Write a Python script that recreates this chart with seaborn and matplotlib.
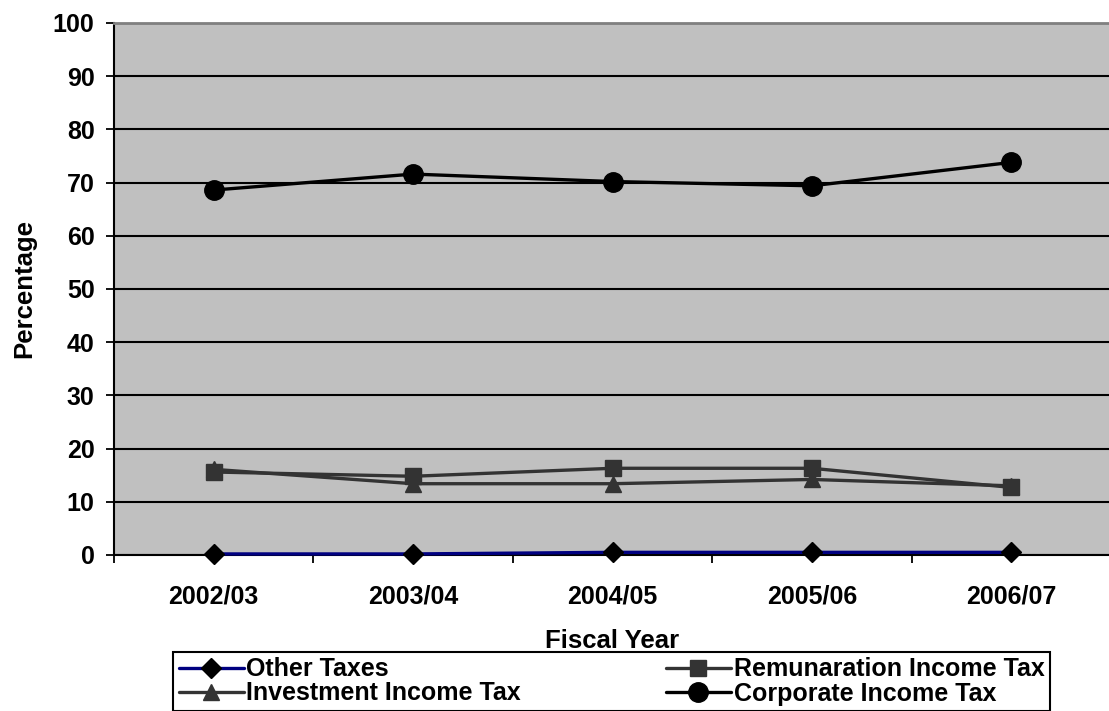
import matplotlib
matplotlib.use("Agg")
import matplotlib.pyplot as plt
import seaborn as sns
import pandas as pd
from matplotlib.ticker import FixedLocator

# Share of tax revenue by type, per fiscal year (percent)
years = ["2002/03", "2003/04", "2004/05", "2005/06", "2006/07"]
other_taxes = [0.2, 0.2, 0.5, 0.5, 0.5]
remuneration_tax = [15.6, 14.8, 16.3, 16.3, 12.7]
investment_tax = [16.1, 13.4, 13.4, 14.2, 13.0]
corporate_tax = [68.6, 71.6, 70.2, 69.4, 73.8]
y_ticks = [0, 10, 20, 30, 40, 50, 60, 70, 80, 90, 100]

series = [
    ("Other Taxes", other_taxes, dict(color="#000080", marker="D", markersize=10.5,
                                      markerfacecolor="black", markeredgecolor="black")),
    ("Remunaration Income Tax", remuneration_tax, dict(color="#333333", marker="s", markersize=11,
                                                      markerfacecolor="#333333", markeredgecolor="#333333")),
    ("Investment Income Tax", investment_tax, dict(color="#333333", marker="^", markersize=12,
                                                   markerfacecolor="#333333", markeredgecolor="#333333")),
    ("Corporate Income Tax", corporate_tax, dict(color="black", marker="o", markersize=14,
                                                 markerfacecolor="black", markeredgecolor="black")),
]

sns.set_theme(style="white")
plt.rcParams["font.family"] = ["Liberation Sans", "DejaVu Sans"]
plt.rcParams["font.weight"] = "bold"
plt.rcParams["text.color"] = "black"
plt.rcParams["axes.labelcolor"] = "black"
plt.rcParams["xtick.color"] = "black"
plt.rcParams["ytick.color"] = "black"

fig = plt.figure(figsize=(11.09, 7.11), dpi=100)
W, H = 1109, 711
ax = fig.add_axes([114 / W, 1 - 555 / H, (1111 - 114) / W, (555 - 23) / H])
ax.set_facecolor("#C0C0C0")

handles = {}
for name, values, style in series:
    df = pd.DataFrame({"year": years, "value": values})
    sns.lineplot(data=df, x="year", y="value", ax=ax, label=name, linewidth=2.4,
                 markeredgewidth=1, zorder=4, clip_on=False, **style)
for h, lab in zip(*ax.get_legend_handles_labels()):
    handles[lab] = h
ax.get_legend().remove()

ax.set_xlim(-0.5, len(years) - 0.5)
ax.set_ylim(0, 100)
ax.yaxis.set_major_locator(FixedLocator(y_ticks))
ax.grid(axis="y", color="black", linewidth=1.5)
ax.grid(axis="x", visible=False)
ax.set_axisbelow(True)

ax.spines["right"].set_visible(False)
ax.spines["top"].set_color("#808080")
ax.spines["top"].set_linewidth(2)
for side in ["left", "bottom"]:
    ax.spines[side].set_color("black")
    ax.spines[side].set_linewidth(1.5)

# category ticks sit between the categories
ax.xaxis.set_minor_locator(FixedLocator([i - 0.5 for i in range(len(years) + 1)]))
ax.tick_params(axis="x", which="major", length=0, pad=21, labelsize=18, labelcolor="black")
ax.tick_params(axis="x", which="minor", bottom=True, length=6, width=1.3, color="black", direction="out")
ax.tick_params(axis="y", which="major", left=True, length=6, width=1.3, color="black",
               direction="out", pad=8, labelsize=18, labelcolor="black")
for lbl in ax.get_xticklabels() + ax.get_yticklabels():
    lbl.set_fontweight("bold")

ax.set_xlabel("Fiscal Year", fontsize=18.5, fontweight="bold", color="black", labelpad=15)
ax.set_ylabel("Percentage", fontsize=18.5, fontweight="bold", color="black", labelpad=12)

order = ["Other Taxes", "Investment Income Tax", "Remunaration Income Tax", "Corporate Income Tax"]
leg = fig.legend([handles[k] for k in order], order, ncol=2, loc="upper left",
                 bbox_to_anchor=(173 / W, 1 - 652 / H, (1050 - 173) / W, 0.0), mode="expand",
                 prop={"weight": "bold", "size": 18}, frameon=True, fancybox=False,
                 edgecolor="black", framealpha=1, handlelength=2.6, handletextpad=0.12,
                 labelspacing=0.0, borderpad=0.22, borderaxespad=0, numpoints=1)
leg.get_frame().set_linewidth(1.5)
for t in leg.get_texts():
    t.set_color("black")

fig.savefig("out.png", dpi=100)
